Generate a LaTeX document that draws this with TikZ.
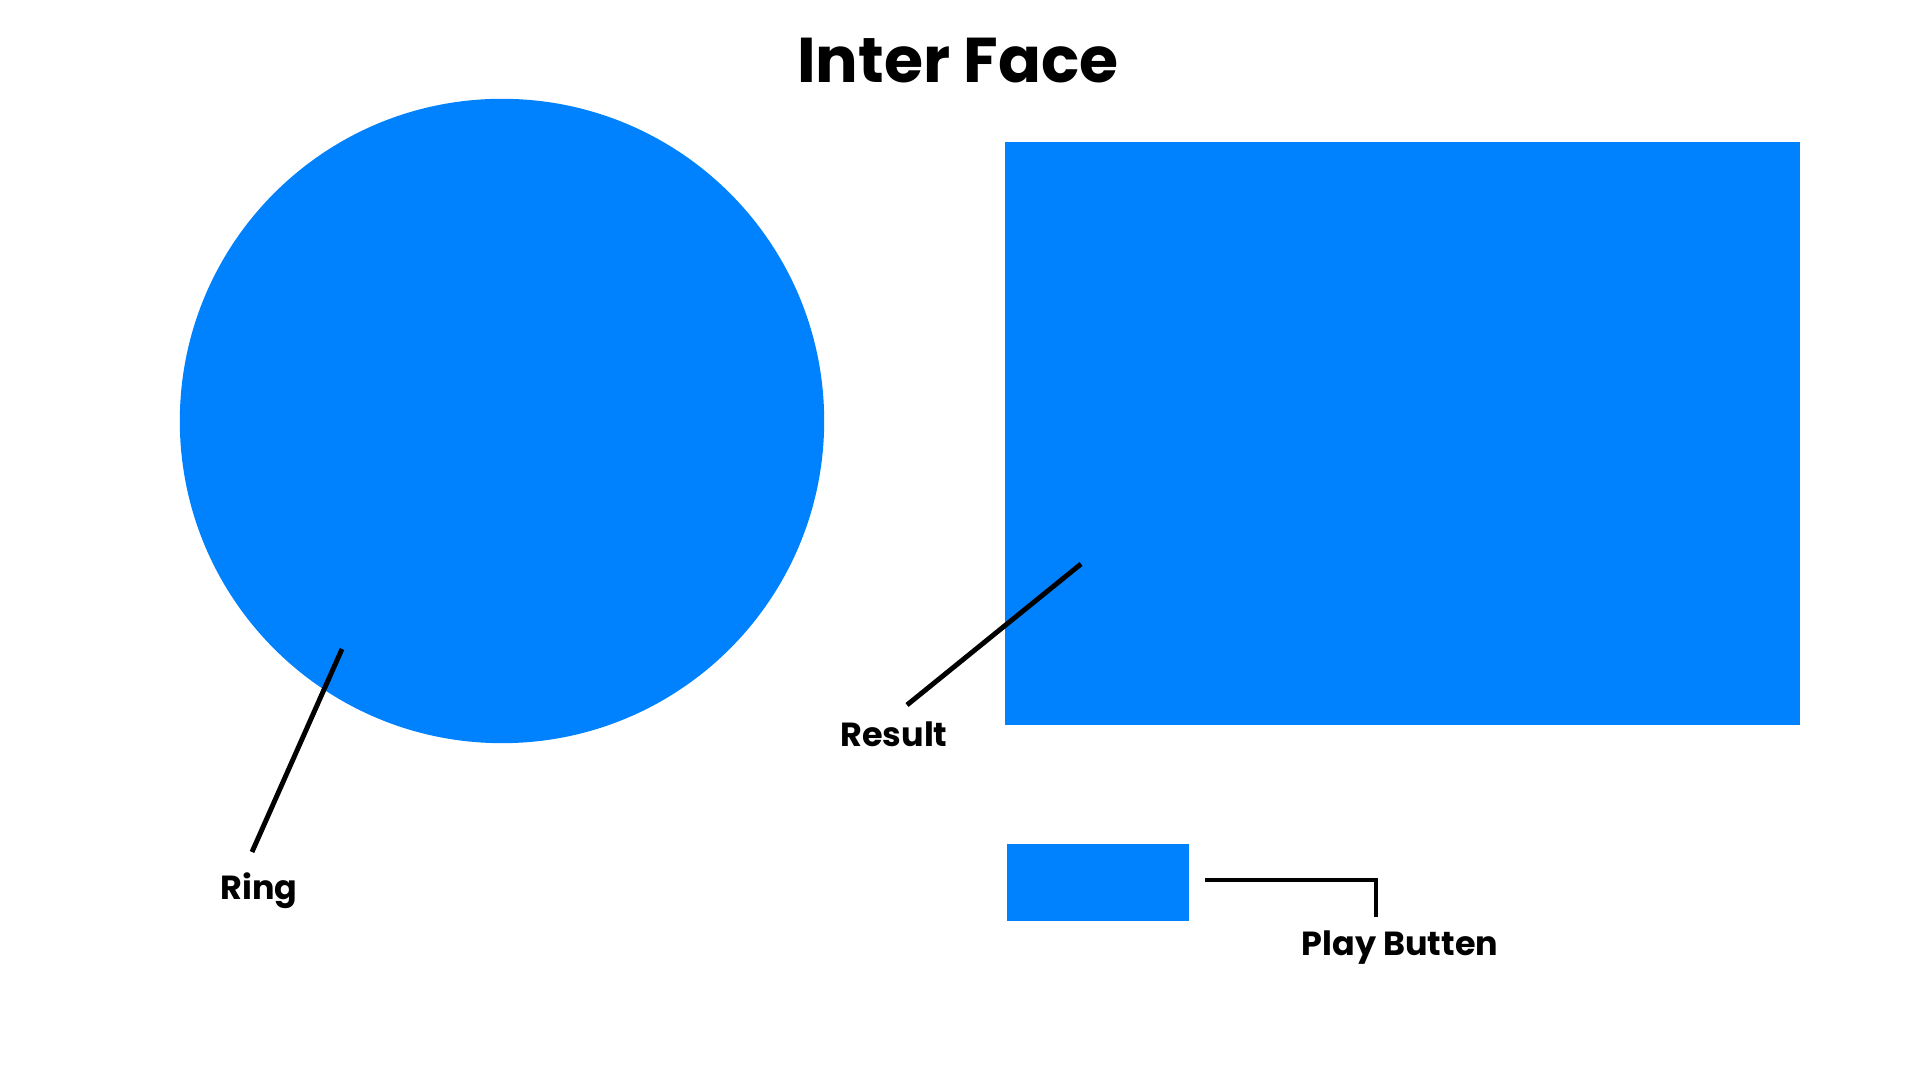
\documentclass[tikz,border=0pt]{standalone}
\usepackage{fontspec}
\setmainfont{Poppins}
\usetikzlibrary{positioning}
\definecolor{Blue}{HTML}{0082FF}

\begin{document}
\begin{tikzpicture}[x=0.01cm,y=-0.01cm,
    part/.style={fill=Blue,inner sep=0pt},
    lbl/.style={font=\bfseries\fontsize{9.5}{11}\selectfont,inner sep=0pt},
    lead/.style={line width=1.4pt,black}
  ]
    \useasboundingbox (0,0) rectangle (1920,1080);
    \node[font=\bfseries\fontsize{18}{22}\selectfont,inner sep=0pt] (title) at (958,61) {Inter Face};
    % shapes
    \node[part,circle,minimum size=6.44cm] (ring) at (502,421) {};
    \node[part,minimum width=7.95cm,minimum height=5.83cm] (result) at (1402.5,433.5) {};
    \node[part,minimum width=1.82cm,minimum height=0.77cm] (play) at (1098,882.5) {};
    % labels
    \node[lbl] (ringlbl) at (259,891) {Ring};
    \node[lbl] (resultlbl) at (894,734) {Result};
    \node[lbl] (playlbl) at (1400,948) {Play Butten};
    % leader lines
    \coordinate (ringpt) at (342,649);
    \coordinate (ringend) at (252,852);
    \coordinate (resultpt) at (1081,564);
    \coordinate (resultend) at (907,705);
    \coordinate (playpt) at (1205,880);
    \coordinate (playend) at (1376,917);
    \draw[lead] (ringpt) -- (ringend);
    \draw[lead] (resultpt) -- (resultend);
    \draw[lead] (playpt) -| (playend);
\end{tikzpicture}
\end{document}
